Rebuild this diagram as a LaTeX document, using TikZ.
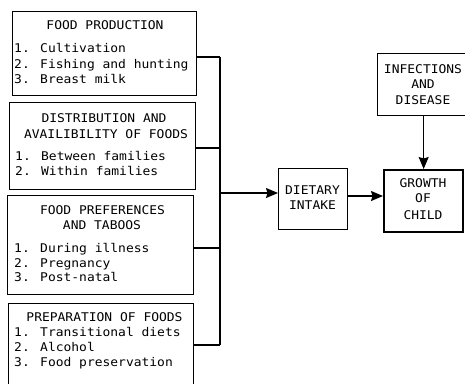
\documentclass[tikz,border=0pt]{standalone}
\usepackage{fontspec}
\newfontfamily\tw[FakeStretch=1.08]{DejaVu Sans Mono}
\usetikzlibrary{arrows.meta}
\begin{document}
\begin{tikzpicture}[x=1pt,y=-1pt,
  box/.style={draw, line width=1.1pt, inner sep=0pt, anchor=north west},
  thickbox/.style={box, line width=2.3pt},
  lbl/.style={inner sep=0pt, font=\tw\fontsize{12}{15}\selectfont},
  ctr/.style={lbl, anchor=base},
  itm/.style={lbl, anchor=base west},
  conn/.style={line width=1.1pt},
  arr/.style={conn, -{Stealth[length=12pt,width=10pt,inset=1.5pt]}}
]
\useasboundingbox (0,0) rectangle (465,383);
\clip (0,0) rectangle (465,383);

% boxes
\node[box, minimum width=184pt, minimum height=84pt] (b1) at (12,11) {};
\node[box, minimum width=186pt, minimum height=87pt] (b2) at (9,102) {};
\node[box, minimum width=186pt, minimum height=99pt] (b3) at (7,195) {};
\node[box, minimum width=185pt, minimum height=90pt] (b4) at (8,303) {};
\node[box, minimum width=69pt, minimum height=61pt] (di) at (278,168) {};
\node[thickbox, minimum width=79pt, minimum height=62pt] (gc) at (383,169) {};
\node[box, minimum width=88pt, minimum height=62pt] (inf) at (377,53) {};

% box 1 text
\node[ctr] (b1t) at (105,29.5) {FOOD PRODUCTION};
\node[itm] (b1a) at (14,52.5) {1. Cultivation};
\node[itm] (b1b) at (14,68.3) {2. Fishing and hunting};
\node[itm] (b1c) at (14,83.5) {3. Breast milk};

% box 2 text
\node[ctr] (b2t) at (104,122.3) {DISTRIBUTION AND};
\node[ctr] (b2u) at (106,138.3) {AVAILIBILITY OF FOODS};
\node[itm] (b2a) at (15,160) {1. Between families};
\node[itm] (b2b) at (15,175.7) {2. Within families};

% box 3 text
\node[ctr] (b3t) at (102.5,214.3) {FOOD PREFERENCES};
\node[ctr] (b3u) at (102,229.3) {AND TABOOS};
\node[itm] (b3a) at (14,252.7) {1. During illness};
\node[itm] (b3b) at (14,267.3) {2. Pregnancy};
\node[itm] (b3c) at (14,281.7) {3. Post-natal};

% box 4 text
\node[ctr] (b4t) at (104.5,321) {PREPARATION OF FOODS};
\node[itm] (b4a) at (14,336) {1. Transitional diets};
\node[itm] (b4b) at (14,351) {2. Alcohol};
\node[itm] (b4c) at (14,366) {3. Food preservation};

% right boxes text
\node[ctr] (dit) at (312.5,194) {DIETARY};
\node[ctr] (diu) at (312.5,209.3) {INTAKE};
\node[ctr] (gct) at (423,187.7) {GROWTH};
\node[ctr] (gcu) at (423,202.7) {OF};
\node[ctr] (gcv) at (423,219) {CHILD};
\node[ctr] (inft) at (423,73.3) {INFECTIONS};
\node[ctr] (infu) at (423,88.3) {AND};
\node[ctr] (infv) at (423,104) {DISEASE};

% connectors
\coordinate (j1) at (220,57);
\coordinate (j2) at (220,148);
\coordinate (j3) at (220,248);
\coordinate (j4) at (220,345);
\coordinate (jm) at (220,193);
\coordinate (ja) at (347,196);

\draw[conn] (j1 -| b1.east) -- (j1);
\draw[conn] (j2 -| b2.east) -- (j2);
\draw[conn] (j3 -| b3.east) -- (j3);
\draw[conn] (j4 -| b4.east) -- (j4);
\draw[conn] (j1) -- (j4);
\draw[arr] (jm) -- (jm -| di.west);
\draw[arr] (ja -| di.east) -- (ja -| gc.west);
\draw[arr] (gc.north |- inf.south) -- (gc.north);
\end{tikzpicture}
\end{document}
